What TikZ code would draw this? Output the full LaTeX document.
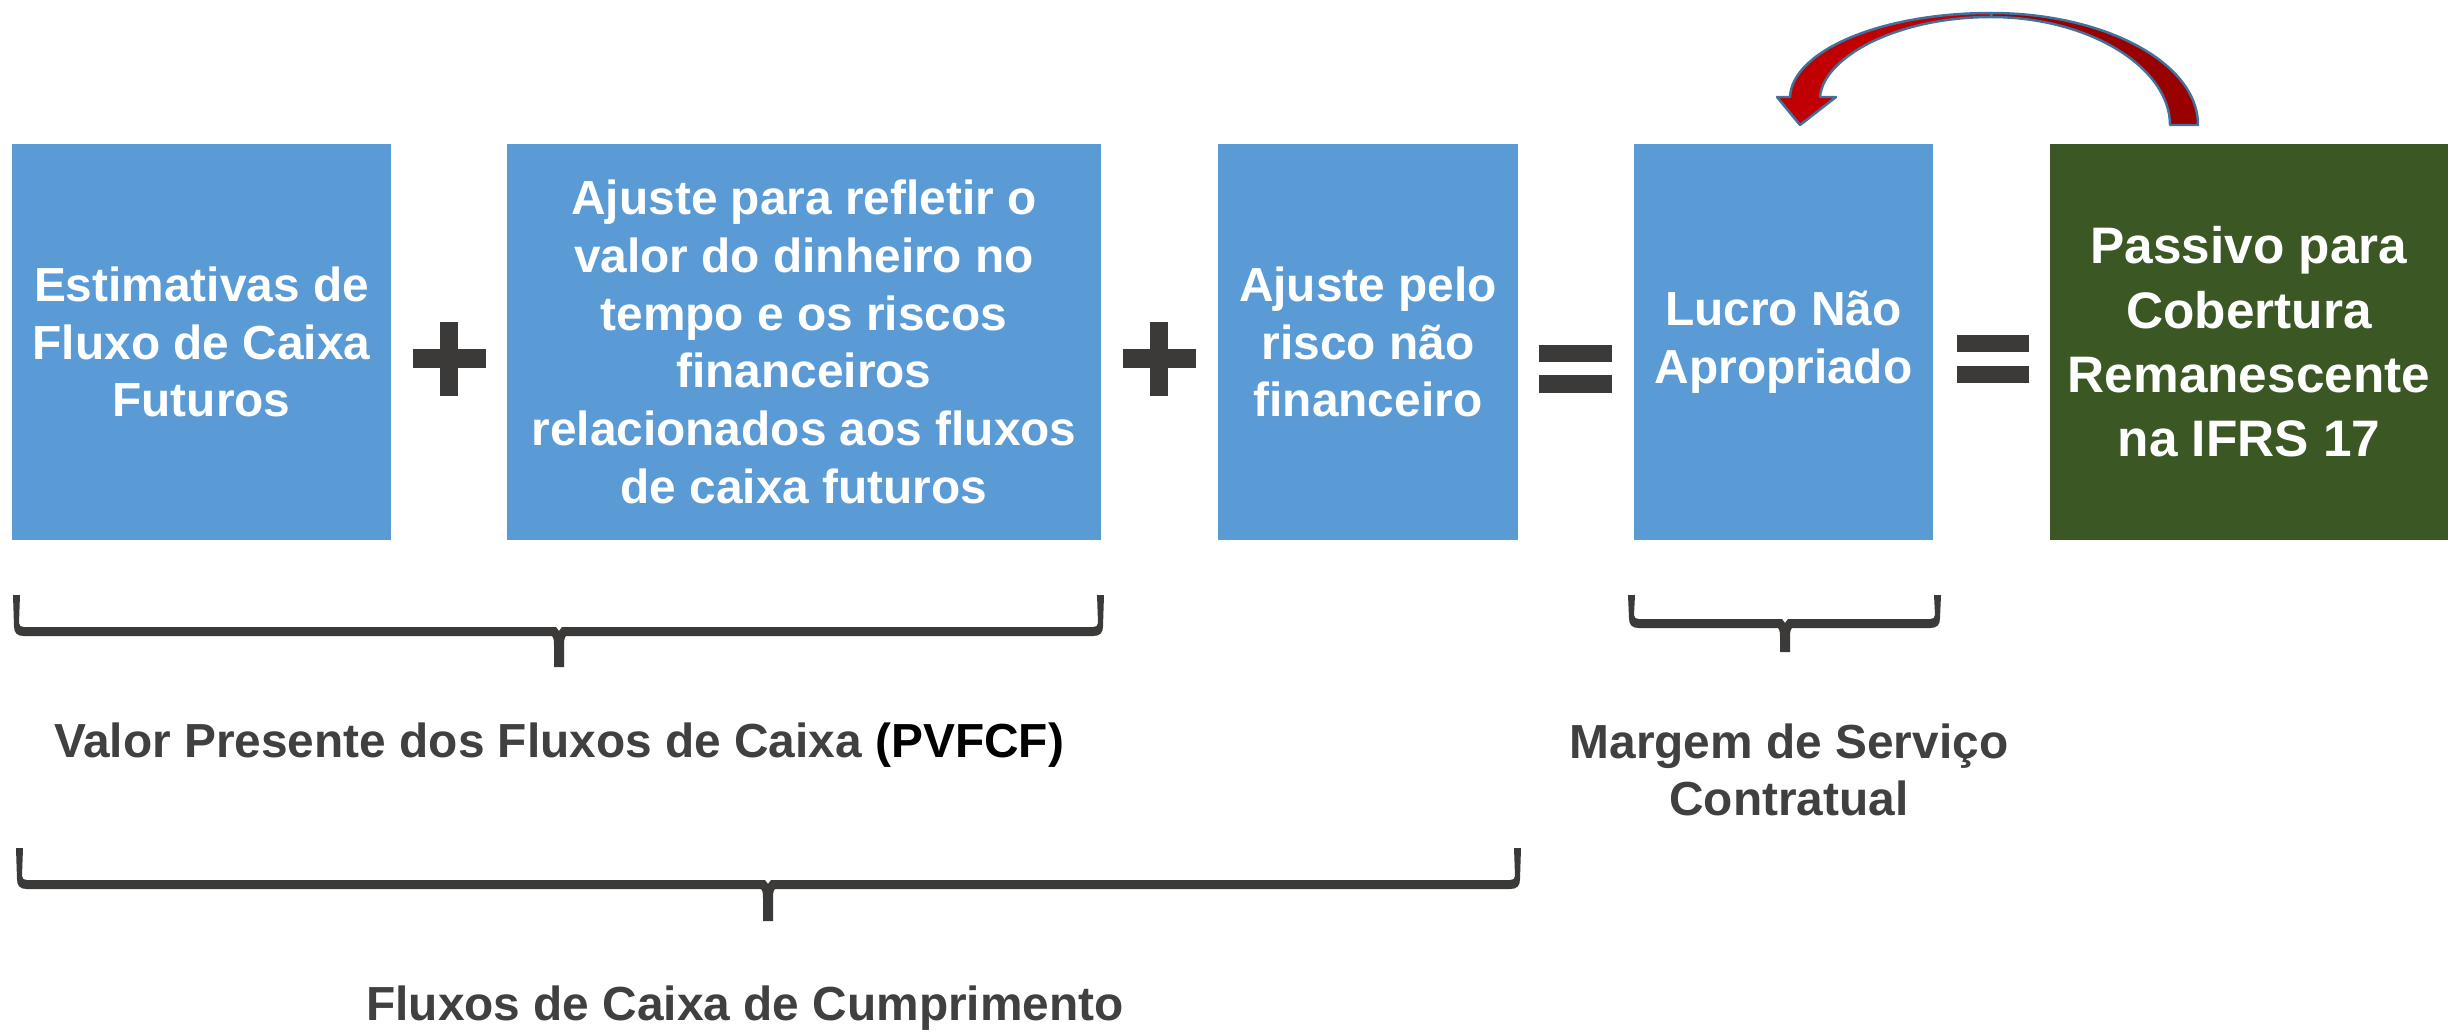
\documentclass[tikz,border=0pt]{standalone}
\usepackage{fontspec}
\setmainfont{Liberation Sans}
\definecolor{boxblue}{HTML}{5B9BD5}
\definecolor{boxgreen}{HTML}{3A5724}
\definecolor{symgray}{HTML}{3B3A38}
\definecolor{txtgray}{HTML}{404040}
\definecolor{arrowred}{HTML}{C00000}
\definecolor{arrowdark}{HTML}{990000}
\definecolor{arrowline}{HTML}{41719C}
% brace: #1 xl, #2 xr, #3 xm, #4 ytop, #5 bar top, #6 tip bottom
\newcommand{\mybracefig}[6]{%
\fill[symgray] (#1,#4) -- ({#1+7},#4) -- ({#1+6},{#5-4}) .. controls ({#1+6},{#5-1}) and ({#1+8},#5) .. ({#1+11},#5)
 -- ({#3-3},#5) -- (#3,{#5+4}) -- ({#3+3},#5) -- ({#2-11},#5)
 .. controls ({#2-8},#5) and ({#2-6},{#5-1}) .. ({#2-6},{#5-4}) -- ({#2-7},#4) -- (#2,#4)
 -- ({#2-1},{#5-1}) .. controls ({#2-1},{#5+6}) and ({#2-4},{#5+9}) .. ({#2-11},{#5+9})
 -- ({#3+7},{#5+9}) .. controls ({#3+5},{#5+11}) and ({#3+5},{#5+15}) .. ({#3+5},{#5+19})
 -- ({#3+5},#6) -- ({#3-5},#6) -- ({#3-5},{#5+19})
 .. controls ({#3-5},{#5+15}) and ({#3-5},{#5+11}) .. ({#3-7},{#5+9})
 -- ({#1+11},{#5+9}) .. controls ({#1+4},{#5+9}) and ({#1+1},{#5+6}) .. ({#1+1},{#5-1}) -- cycle;}
\begin{document}
\begin{tikzpicture}[x=0.01cm,y=-0.01cm,
  box/.style={rectangle, fill=boxblue, text=white, inner sep=0pt, minimum height=3.96cm,
    align=center, font=\fontsize{13.6pt}{16.4pt}\selectfont\bfseries},
  greenbox/.style={box, fill=boxgreen, font=\fontsize{14.6pt}{18.3pt}\selectfont\bfseries},
  lbl/.style={text=txtgray, inner sep=0pt, align=center, font=\fontsize{13.6pt}{16.4pt}\selectfont\bfseries},
  sym/.style={fill=symgray},
  arrowpart/.style={draw=arrowline, line width=0.7pt, line join=round}]
\useasboundingbox (0,0) rectangle (2448,1032);

% boxes
\node[box, minimum width=3.79cm] (est) at (201.5,342) {Estimativas de\\Fluxo de Caixa\\Futuros};
\node[box, minimum width=5.94cm] (adj) at (804,342) {Ajuste para refletir o\\valor do dinheiro no\\tempo e os riscos\\financeiros\\relacionados aos fluxos\\de caixa futuros};
\node[box, minimum width=3.00cm] (risk) at (1368,342) {Ajuste pelo\\risco não\\financeiro};
\node[box, minimum width=2.99cm] (lucro) at (1783.5,342) {Lucro Não\\Apropriado};
\node[greenbox, minimum width=3.98cm] (passivo) at (2249,342) {Passivo para\\Cobertura\\Remanescente\\na IFRS 17};

% plus / equals signs
\fill[sym] (413,349) rectangle (486,368); \fill[sym] (440,322) rectangle (458,396);
\fill[sym] (1123,349) rectangle (1196,368); \fill[sym] (1150,322) rectangle (1168,396);
\fill[sym] (1539,345) rectangle (1612,362); \fill[sym] (1539,375) rectangle (1612,393);
\fill[sym] (1957,335) rectangle (2029,352); \fill[sym] (1957,366) rectangle (2029,383);

% braces
\mybracefig{13}{1104}{559}{595}{627}{667}
\mybracefig{16}{1521}{768}{848}{880}{921}
\mybracefig{1628}{1941}{1785}{595}{619}{652}

% curved arrow
\filldraw[arrowpart, fill=arrowdark] (1991,13) .. controls (2105,13) and (2198,63) .. (2198,125)
  -- (2170,125) .. controls (2170,68) and (2090,17) .. (1991,17) -- cycle;
\filldraw[arrowpart, fill=arrowred] (1991,13) .. controls (1878,13) and (1792,52) .. (1790,97)
  -- (1777,97) -- (1800,125) -- (1836,97) -- (1820,97)
  .. controls (1823,58) and (1895,17) .. (1991,17) -- cycle;

% labels
\node[lbl, anchor=base] (pv) at (559,757) {Valor Presente dos Fluxos de Caixa {\color{black}(PVFCF)}};
\node[lbl] (csm) at (1789,770) {Margem de Serviço\\Contratual};
\node[lbl, anchor=base] (fcc) at (745,1020) {Fluxos de Caixa de Cumprimento};
\end{tikzpicture}
\end{document}
